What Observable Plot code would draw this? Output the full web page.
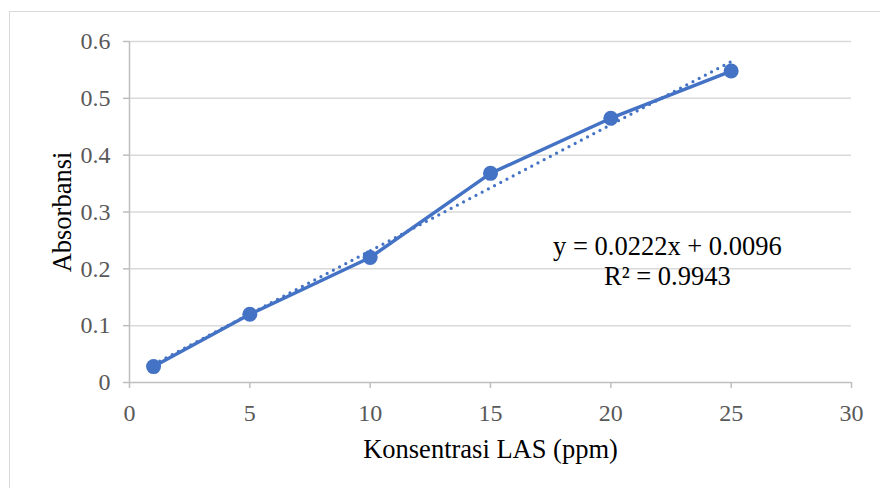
<!DOCTYPE html>
<html>
<head>
<meta charset="utf-8">
<script src="https://cdn.jsdelivr.net/npm/d3@7"></script>
<script src="https://cdn.jsdelivr.net/npm/@observablehq/plot@0.6"></script>
<style>
  html, body { margin: 0; padding: 0; background: #fff; }
  #wrap { position: relative; width: 880px; height: 488px; overflow: hidden; }
  #border { position: absolute; left: 9px; top: 11px; width: 900px; height: 500px;
            border-left: 1.5px solid #d9d9d9; border-top: 1.5px solid #d9d9d9; box-sizing: border-box; }
  #chart { position: absolute; left: 0; top: 0; }
</style>
</head>
<body>
<div id="wrap"><div id="border"></div><div id="chart"></div></div>
<script>
// Data
const concentration = [1, 5, 10, 15, 20, 25];
const absorbance = [0.028, 0.120, 0.220, 0.368, 0.465, 0.548];
const xTicks = [0, 5, 10, 15, 20, 25, 30];
const yTicks = [0, 0.1, 0.2, 0.3, 0.4, 0.5, 0.6];
const slope = 0.0222;
const intercept = 0.0096;
const equationLines = ["y = 0.0222x + 0.0096", "R² = 0.9943"];
const equationPos = [{x: 22.35, y: 0.239}, {x: 22.35, y: 0.186}];
const xTitle = "Konsentrasi LAS (ppm)";
const yTitle = "Absorbansi";

const points = concentration.map((c, i) => ({x: c, y: absorbance[i]}));
const trend = [concentration[0], concentration[concentration.length - 1]]
  .map(x => ({x, y: slope * x + intercept}));
const eq = equationLines.map((t, i) => ({text: t, ...equationPos[i]}));

const blue = "#4472C4";
const chart = Plot.plot({
  width: 880,
  height: 488,
  marginLeft: 129,
  marginRight: 29,
  marginTop: 41,
  marginBottom: 106,
  style: {fontFamily: "'Liberation Serif', 'Times New Roman', serif", background: "transparent", overflow: "visible"},
  x: {domain: [0, 30]},
  y: {domain: [0, 0.6]},
  marks: [
    Plot.gridY(yTicks.filter(d => d > 0), {stroke: "#d9d9d9", strokeOpacity: 1, strokeWidth: 1.5}),
    Plot.ruleX([0], {stroke: "#bfbfbf", strokeWidth: 1.5}),
    Plot.ruleY([0], {stroke: "#bfbfbf", strokeWidth: 1.5}),
    Plot.axisY({ticks: yTicks, tickSize: 6, tickPadding: 13, stroke: "#bfbfbf", strokeWidth: 1.5,
      fill: "#595959", fontSize: 24, label: null, tickFormat: d => d === 0 ? "0" : d3.format(".1f")(d)}),
    Plot.axisX({ticks: xTicks, tickSize: 6, tickPadding: 15, stroke: "#bfbfbf", strokeWidth: 1.5,
      fill: "#595959", fontSize: 24, label: null, tickFormat: d => String(d)}),
    Plot.line(trend, {x: "x", y: "y", stroke: blue, strokeWidth: 3.2, strokeDasharray: "0 7", strokeLinecap: "round"}),
    Plot.line(points, {x: "x", y: "y", stroke: blue, strokeWidth: 3.5}),
    Plot.dot(points, {x: "x", y: "y", r: 7.5, fill: blue, stroke: "none"}),
    Plot.text(eq, {x: "x", y: "y", text: "text", fill: "#000", fontSize: 26.5}),
    Plot.text([xTitle], {frameAnchor: "bottom", dy: 75, lineAnchor: "bottom", textAnchor: "middle", fill: "#000", fontSize: 26.5}),
    Plot.text([yTitle], {frameAnchor: "left", dx: -67, rotate: -90, lineAnchor: "middle", textAnchor: "middle", fill: "#000", fontSize: 26.5})
  ]
});
document.getElementById("chart").appendChild(chart);
</script>
</body>
</html>
